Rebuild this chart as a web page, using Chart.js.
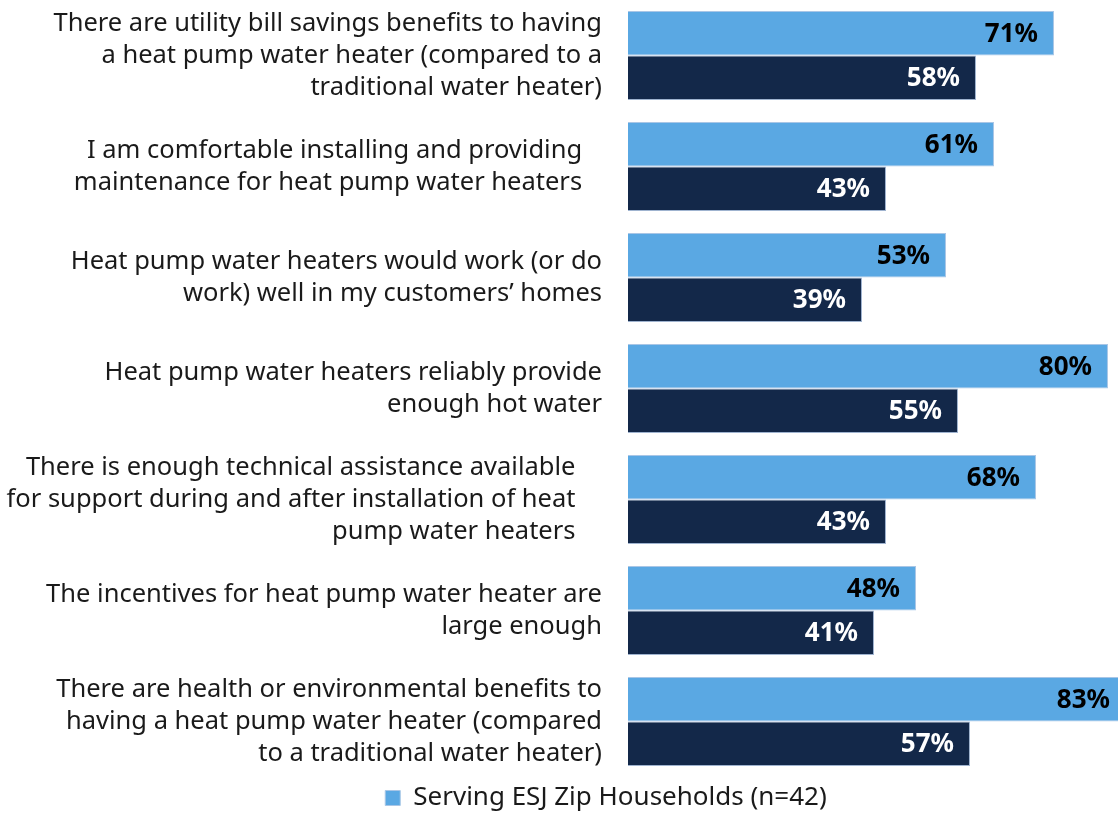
<!DOCTYPE html>
<html>
<head>
<meta charset="utf-8">
<script src="https://cdn.jsdelivr.net/npm/chart.js@4/dist/chart.umd.min.js"></script>
<style>
  html, body { margin: 0; padding: 0; background: #fff; }
  #wrap { width: 1118px; height: 815px; position: relative; }
</style>
</head>
<body>
<div id="wrap"><canvas id="hpwh-chart"></canvas></div>
<script>
// statement labels (wrapped lines, as in the source slide)
const statements = [
  ['There are utility bill savings benefits to having', 'a heat pump water heater (compared to a', 'traditional water heater)'],
  ['I am comfortable installing and providing   ', 'maintenance for heat pump water heaters   '],
  ['Heat pump water heaters would work (or do', 'work) well in my customers\u2019 homes'],
  ['Heat pump water heaters reliably provide', 'enough hot water'],
  ['There is enough technical assistance available    ', 'for support during and after installation of heat    ', 'pump water heaters    '],
  ['The incentives for heat pump water heater are', 'large enough'],
  ['There are health or environmental benefits to', 'having a heat pump water heater (compared', 'to a traditional water heater)']
];

const esjValues = [71, 61, 53, 80, 68, 48, 83];     // Serving ESJ Zip Households (n=42)
const otherValues = [58, 43, 39, 55, 43, 41, 57];   // second group (not in legend)

const FONT = '"Noto Sans", "Open Sans", sans-serif';

// % labels inside the bar ends
const barLabels = {
  id: 'barLabels',
  afterDatasetsDraw(chart) {
    const ctx = chart.ctx;
    ctx.save();
    ctx.font = 'bold 26px ' + FONT;
    ctx.textAlign = 'right';
    ctx.textBaseline = 'middle';
    chart.data.datasets.forEach((ds, i) => {
      chart.getDatasetMeta(i).data.forEach((bar, j) => {
        ctx.fillStyle = i === 0 ? '#000000' : '#ffffff';
        ctx.fillText(ds.data[j] + '%', bar.x - 16, bar.y + 1);
      });
    });
    ctx.restore();
  }
};

// the legend sits a little right of page centre and low in the slide
const legendNudge = {
  id: 'legendNudge',
  afterLayout(chart) {
    const lg = chart.legend;
    lg.left += 47;
    lg.right += 47;
    lg.top += 8;
    lg.bottom += 8;
  }
};

new Chart(document.getElementById('hpwh-chart'), {
  type: 'bar',
  data: {
    labels: statements,
    datasets: [
      {
        label: 'Serving ESJ Zip Households (n=42)',
        data: esjValues,
        backgroundColor: '#5aa8e3',
        borderColor: '#a9c6e6',
        borderWidth: 1,
        categoryPercentage: 0.8,
        barPercentage: 1.0
      },
      {
        label: 'Other',
        data: otherValues,
        backgroundColor: '#132849',
        borderColor: '#9fb3cf',
        borderWidth: 1,
        categoryPercentage: 0.8,
        barPercentage: 1.0
      }
    ]
  },
  options: {
    indexAxis: 'y',
    responsive: true,
    maintainAspectRatio: false,
    animation: false,
    layout: { padding: { top: -2, right: 0, bottom: 2, left: 0 } },
    scales: {
      x: {
        min: 0,
        max: 81.67,
        display: false,
        grid: { display: false }
      },
      y: {
        grid: { display: false, drawTicks: false },
        border: { display: false },
        afterFit(scale) {
          scale.width = 628;
          scale.paddingTop = 0;
          scale.paddingBottom = 0;
        },
        ticks: {
          padding: 26,
          color: '#1a1a1a',
          font: { family: FONT, size: 25.5, lineHeight: 1.255 }
        }
      }
    },
    plugins: {
      legend: {
        position: 'bottom',
        labels: {
          filter: (item) => item.datasetIndex === 0,
          color: '#1a1a1a',
          boxWidth: 15,
          boxHeight: 15,
          padding: 0,
          font: { family: FONT, size: 26 }
        }
      },
      tooltip: { enabled: false }
    }
  },
  plugins: [barLabels, legendNudge]
});
</script>
</body>
</html>
